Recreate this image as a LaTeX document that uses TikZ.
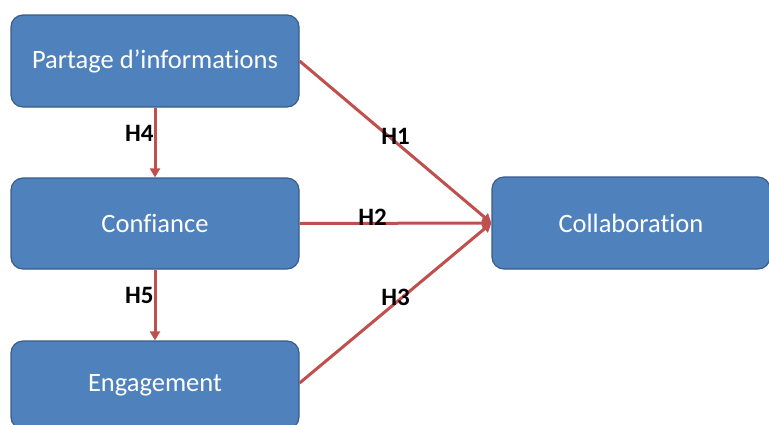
\documentclass[tikz,border=0pt]{standalone}
\usepackage{fontspec}
\setmainfont{Carlito}[Ligatures=NoCommon]
\usepackage{tikz}
\usetikzlibrary{arrows.meta,positioning}
\definecolor{myblue}{RGB}{79,129,189}
\definecolor{mydarkblue}{RGB}{56,93,138}
\definecolor{myred}{RGB}{192,80,77}
\tikzstyle{factor}=[draw=mydarkblue,line width=1.2pt,fill=myblue,rounded corners=12pt,text=white,font=\fontsize{26.5}{32}\selectfont,inner sep=0pt]
\tikzstyle{hyp}=[draw=myred,line width=3pt,-{Triangle[length=9pt,width=10pt]}]
\tikzstyle{hlabel}=[font=\fontsize{25}{30}\selectfont\bfseries,text=black,inner sep=0pt]

\begin{document}
\begin{tikzpicture}[x=1pt,y=-1pt]
\clip (0,0) rectangle (769,424);
\fill[white] (0,0) rectangle (769,424);
\node [factor, minimum width=288pt, minimum height=92pt] (info) at (155,61) {Partage d'informations};
\node [factor, minimum width=288pt, minimum height=91pt] (conf) at (155,223.5) {Confiance};
\node [factor, minimum width=288pt, minimum height=88pt] (eng) at (155,385) {\raisebox{4pt}{Engagement}};
\node [factor, minimum width=278pt, minimum height=92pt] (coll) at (631,223) {Collaboration};

\draw [hyp] (info.south) -- node [hlabel, anchor=east, pos=.37] {H4} (conf.north);
\draw [hyp] (conf.south) -- node [hlabel, anchor=east, pos=.37] {H5} (eng.north);
\draw [hyp] (info.east) -- node [hlabel, pos=.5, yshift=6pt] {H1} (coll.west);
\draw [hyp] (conf.east) -- node [hlabel, pos=.38, yshift=6pt] {H2} (coll.west);
\draw [hyp] (eng.east |- 0,383) -- node [hlabel, pos=.5, yshift=6pt] {H3} (coll.west);
\end{tikzpicture}
\end{document}
